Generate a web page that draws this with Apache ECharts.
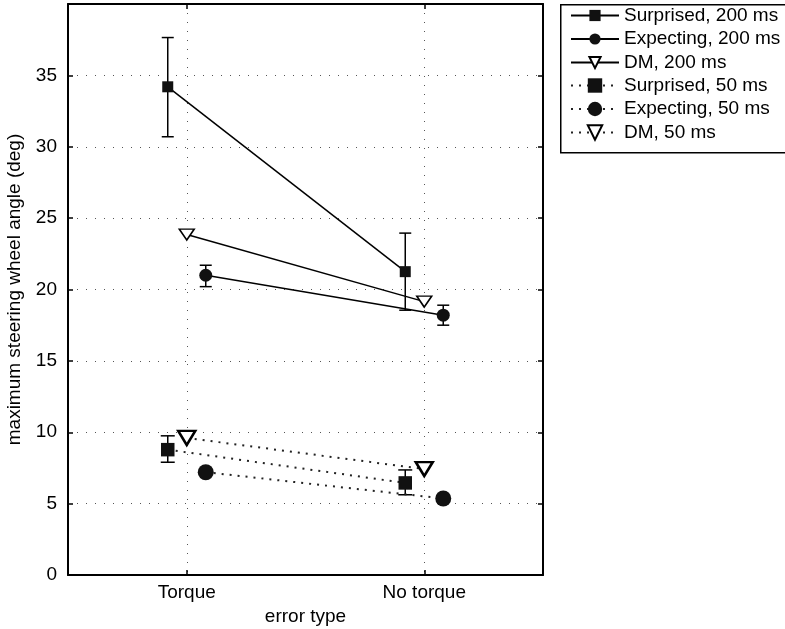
<!DOCTYPE html>
<html><head><meta charset="utf-8">
<script src="https://cdn.jsdelivr.net/npm/echarts@6/dist/echarts.min.js"></script>
<style>html,body{margin:0;padding:0;background:#fff}#c{width:785px;height:629px}</style>
</head><body><div id="c"></div>
<script>
// ---- data ----
const categories = ['Torque', 'No torque'];
const yTickStep = 5;
const seriesNames = ['Surprised, 200 ms', 'Expecting, 200 ms', 'DM, 200 ms',
                     'Surprised, 50 ms', 'Expecting, 50 ms', 'DM, 50 ms'];
const surprised200 = [34.2, 21.25];
const surprised200Low = [30.7, 18.55];
const surprised200High = [37.65, 23.95];
const expecting200 = [21.0, 18.2];
const expecting200Low = [20.2, 17.5];
const expecting200High = [21.7, 18.9];
const dm200 = [23.85, 19.15];
const surprised50 = [8.78, 6.45];
const surprised50Low = [7.9, 5.62];
const surprised50High = [9.75, 7.36];
const expecting50 = [7.2, 5.36];
const dm50 = [9.6, 7.42];

// ---- layout / style ----
const FONT = '"Liberation Sans", Arial, Helvetica, sans-serif';
const FS = 19;
const offSurprised = -0.08, offDM = 0, offExpecting = 0.08;
const catX = i => i + 1;

function pts(vals, off) { return vals.map((v, i) => [catX(i) + off, v]); }

function lineSeries(name, vals, off, symbol, size, dotted, hollow, bw) {
  return {
    type: 'line', name: name, data: pts(vals, off), z: 3,
    symbol: symbol, symbolSize: size, symbolRotate: symbol === 'triangle' ? 180 : 0,
    showAllSymbol: true,
    lineStyle: dotted ? { color: '#222', width: 2, type: [2, 6] } : { color: '#000', width: 1.5, type: 'solid' },
    itemStyle: hollow ? { color: '#fff', borderColor: '#000', borderWidth: bw } : { color: '#111', borderColor: '#111', borderWidth: 0 },
    emphasis: { disabled: true }, animation: false
  };
}

function errSeries(vals, low, high, off, cap, w) {
  return {
    type: 'custom', silent: true, z: 2, animation: false,
    data: low.map((l, i) => [catX(i) + off, l, high[i]]),
    encode: { x: 0, y: [1, 2] },
    renderItem: (params, api) => {
      const x = api.value(0);
      const lo = api.coord([x, api.value(1)]);
      const hi = api.coord([x, api.value(2)]);
      const st = { stroke: '#000', lineWidth: w };
      return { type: 'group', children: [
        { type: 'line', shape: { x1: lo[0], y1: lo[1], x2: hi[0], y2: hi[1] }, style: st },
        { type: 'line', shape: { x1: lo[0] - cap / 2, y1: lo[1], x2: lo[0] + cap / 2, y2: lo[1] }, style: st },
        { type: 'line', shape: { x1: hi[0] - cap / 2, y1: hi[1], x2: hi[0] + cap / 2, y2: hi[1] }, style: st }
      ]};
    }
  };
}

const chart = echarts.init(document.getElementById('c'), null, { renderer: 'canvas' });
const axisLine = { show: true, onZero: false, lineStyle: { color: '#000', width: 2 } };
const tick = { show: true, inside: true, length: 5, lineStyle: { color: '#000', width: 1.5 } };
const dotted = { show: true, lineStyle: { color: '#555', width: 1, type: [1, 8] } };

chart.setOption({
  animation: false,
  textStyle: { fontFamily: FONT, color: '#000' },
  grid: { left: 68, right: 242, top: 4, bottom: 54, containLabel: false, outerBoundsMode: 'none' },
  xAxis: [{
    type: 'value', position: 'bottom', min: 0.5, max: 2.5,
    axisLine: axisLine,
    axisTick: Object.assign({ customValues: [1, 2] }, tick),
    axisLabel: { customValues: [1, 2], fontSize: FS, color: '#000', fontFamily: FONT, margin: 8,
      formatter: v => categories[Math.round(v) - 1] || '' },
    splitLine: dotted,
    name: 'error type', nameLocation: 'middle', nameGap: 31,
    nameTextStyle: { fontSize: FS, color: '#000', fontFamily: FONT }
  }, {
    type: 'value', position: 'top', min: 0.5, max: 2.5,
    axisLine: axisLine,
    axisTick: Object.assign({ customValues: [1, 2] }, tick),
    axisLabel: { show: false }, splitLine: { show: false }
  }],
  yAxis: [{
    type: 'value', position: 'left', min: 0, max: 40, interval: yTickStep,
    axisLine: axisLine, axisTick: tick,
    axisLabel: { fontSize: FS, color: '#000', fontFamily: FONT, margin: 11,
      formatter: v => (v >= 40 ? '' : String(v)) },
    splitLine: dotted,
    name: 'maximum steering wheel angle (deg)', nameLocation: 'middle', nameGap: 44,
    nameTextStyle: { fontSize: FS, color: '#000', fontFamily: FONT }
  }, {
    type: 'value', position: 'right', min: 0, max: 40, interval: yTickStep,
    axisLine: axisLine, axisTick: tick,
    axisLabel: { show: false }, splitLine: { show: false }
  }],
  graphic: [{
    type: 'rect', left: 560, top: 4, z: -1,
    shape: { width: 240, height: 148 },
    style: { fill: '#fff', stroke: '#000', lineWidth: 1.5 }
  }],
  legend: [{
    data: seriesNames.slice(0, 3), orient: 'vertical', left: 570, top: 6, padding: 0,
    itemWidth: 48, itemHeight: 14, itemGap: 4.5, selectedMode: false,
    textStyle: { fontSize: FS, color: '#000', fontFamily: FONT }
  }, {
    data: seriesNames.slice(3), orient: 'vertical', left: 570, top: 76, padding: 0,
    itemWidth: 48, itemHeight: 18, itemGap: 4.5, selectedMode: false,
    textStyle: { fontSize: FS, color: '#000', fontFamily: FONT }
  }],
  series: [
    errSeries(surprised200, surprised200Low, surprised200High, offSurprised, 12, 1.5),
    errSeries(expecting200, expecting200Low, expecting200High, offExpecting, 12, 1.5),
    errSeries(surprised50, surprised50Low, surprised50High, offSurprised, 14, 1.5),
    lineSeries(seriesNames[0], surprised200, offSurprised, 'rect', 11, false, false),
    lineSeries(seriesNames[1], expecting200, offExpecting, 'circle', 13, false, false),
    lineSeries(seriesNames[2], dm200, offDM, 'triangle', [15, 11], false, true, 1.5),
    lineSeries(seriesNames[3], surprised50, offSurprised, 'rect', 13.5, true, false),
    lineSeries(seriesNames[4], expecting50, offExpecting, 'circle', 16, true, false),
    lineSeries(seriesNames[5], dm50, offDM, 'triangle', [17, 14], true, true, 2.5)
  ]
});
</script></body></html>
